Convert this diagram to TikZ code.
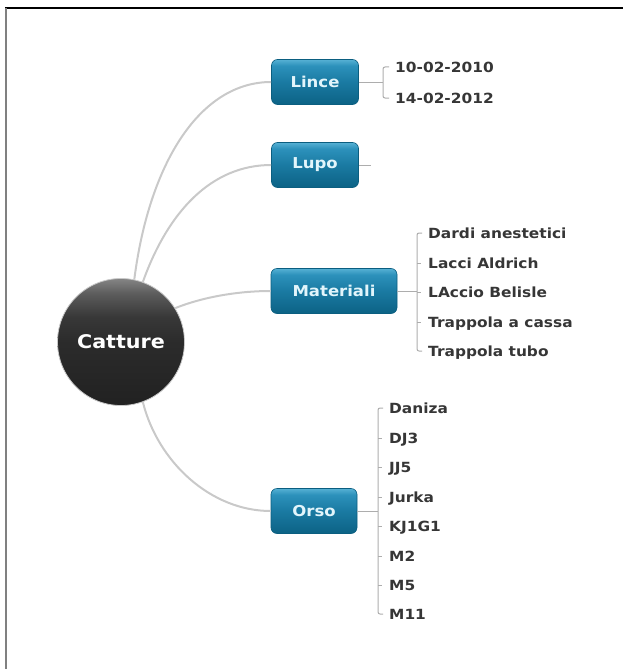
\documentclass[tikz,border=0pt]{standalone}
\usepackage{fontspec}
\setmainfont{DejaVu Sans}
\newfontfamily\widesans[FakeStretch=1.1]{DejaVu Sans}
\usetikzlibrary{calc}
\definecolor{linkgray}{HTML}{C9C9C9}
\definecolor{brgray}{HTML}{ADADAD}
\definecolor{boxedge}{HTML}{0B5E80}
\definecolor{boxtext}{HTML}{E2F5FB}
\definecolor{leaftext}{HTML}{363636}
% sphere-like shading of the central topic (bbox maps to 25bp..75bp)
\pgfdeclareverticalshading{ballshade}{100bp}{%
  color(0bp)=(black!87); color(25bp)=(black!87); color(50bp)=(black!83);
  color(60bp)=(black!78); color(69bp)=(black!64); color(75bp)=(black!48); color(100bp)=(black!48)}
% glossy blue shading of the topic boxes
\pgfdeclareverticalshading{boxshade}{100bp}{%
  color(0bp)=(rgb,255:red,12;green,98;blue,133); color(25bp)=(rgb,255:red,12;green,98;blue,133);
  color(50bp)=(rgb,255:red,26;green,122;blue,162); color(68bp)=(rgb,255:red,44;green,145;blue,187);
  color(75bp)=(rgb,255:red,86;green,176;blue,212); color(100bp)=(rgb,255:red,86;green,176;blue,212)}
\tikzset{
  rootball/.style={circle, minimum size=127, inner sep=0, draw=linkgray, line width=0.8,
    shading=ballshade, text=white, font=\widesans\bfseries\fontsize{18.8}{24}\selectfont},
  topic/.style={rounded corners=6, minimum height=45, inner sep=0, draw=boxedge, line width=0.6,
    shading=boxshade, text=boxtext, font=\widesans\bfseries\fontsize{15}{18}\selectfont},
  leaf/.style={anchor=west, inner sep=0, text height=10, text depth=0, text=leaftext,
    font=\widesans\bfseries\fontsize{14}{17}\selectfont},
  link/.style={draw=linkgray, line width=2},
  br/.style={draw=brgray, line width=1},
}
\begin{document}
\begin{tikzpicture}[x=1pt, y=-1pt]
\useasboundingbox (0,0) rectangle (623,669);
% frame
\draw[black, line width=2] (5,8) -- (623,8);
\draw[gray, line width=2] (6,8) -- (6,669);

% central topic and main branches
\node[rootball] (root) at (121,342) {Catture};
\node[topic, minimum width=87] (lince) at (315,82) {Lince};
\node[topic, minimum width=87] (lupo) at (315,165) {Lupo};
\node[topic, minimum width=126] (mat) at (334,291) {Materiali};
\node[topic, minimum width=86] (orso) at (314,511) {Orso};

\draw[link] (root.78) .. controls +(15,-117) and +(-71,0) .. (lince.west);
\draw[link] (root.70) .. controls +(25,-70) and +(-60,0) .. (lupo.west);
\draw[link] (root.32) .. controls +(30,-12) and +(-30,0) .. (mat.west);
\draw[link] (root.-70) .. controls +(15,60) and +(-60,0) .. (orso.west);

% Lince
\coordinate (bxL) at (383,0);
\node[leaf] (l1) at (395,67) {10-02-2010};
\node[leaf] (l2) at (395,98) {14-02-2012};
\draw[br] (lince.east) -- (bxL |- lince.east);
\draw[br, rounded corners=2] ($(l1.west)+(-6,0)$) -- (bxL |- l1.west) -- (bxL |- l2.west) -- ($(l2.west)+(-6,0)$);

% Lupo
\coordinate (lupoend) at (371,165);
\draw[br] (lupo.east) -- (lupoend);

% Materiali
\coordinate (bxM) at (417,0);
\node[leaf] (m1) at (428,233) {Dardi anestetici};
\node[leaf] (m2) at (428,263) {Lacci Aldrich};
\node[leaf] (m3) at (428,292) {LAccio Belisle};
\node[leaf] (m4) at (428,322) {Trappola a cassa};
\node[leaf] (m5) at (428,351) {Trappola tubo};
\draw[br] (mat.east) -- (bxM |- mat.east);
\draw[br, rounded corners=2] ($(m1.west)+(-6,0)$) -- (bxM |- m1.west) -- (bxM |- m5.west) -- ($(m5.west)+(-6,0)$);
\foreach \n in {m2,m3,m4} \draw[br] (bxM |- \n.west) -- ++(4,0);

% Orso
\coordinate (bxO) at (378,0);
\node[leaf] (o1) at (389,408) {Daniza};
\node[leaf] (o2) at (389,438) {DJ3};
\node[leaf] (o3) at (389,467) {JJ5};
\node[leaf] (o4) at (389,497) {Jurka};
\node[leaf] (o5) at (389,526) {KJ1G1};
\node[leaf] (o6) at (389,556) {M2};
\node[leaf] (o7) at (389,585) {M5};
\node[leaf] (o8) at (389,614) {M11};
\draw[br] (orso.east) -- (bxO |- orso.east);
\draw[br, rounded corners=2] ($(o1.west)+(-6,0)$) -- (bxO |- o1.west) -- (bxO |- o8.west) -- ($(o8.west)+(-6,0)$);
\foreach \n in {o2,o3,o4,o5,o6,o7} \draw[br] (bxO |- \n.west) -- ++(4,0);
\end{tikzpicture}
\end{document}
